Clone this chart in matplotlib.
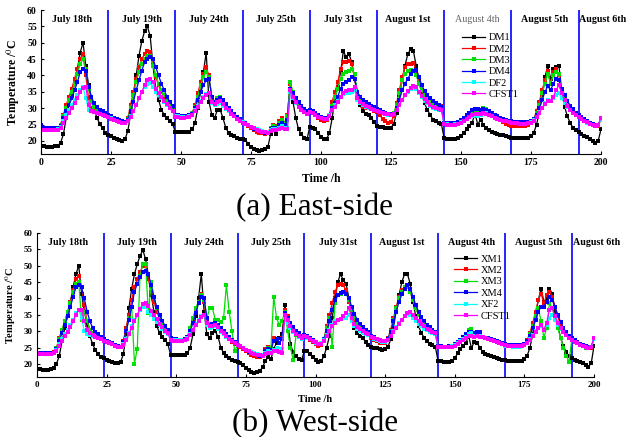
import numpy as np
import matplotlib
matplotlib.use("Agg")
import matplotlib.pyplot as plt

plt.rcParams['font.family'] = ['Liberation Serif', 'DejaVu Serif']
plt.rcParams['mathtext.fontset'] = 'stix'

nan = np.nan
day_edges = [24, 48, 72, 96, 120, 144, 168, 192]
day_names = ["July 18th", "July 19th", "July 24th", "July 25th", "July 31st",
             "August 1st", "August 4th", "August 5th", "August 6th"]
day_label_x = [11, 36, 60, 84, 108, 131, 156, 180, 192.3]
east_labels = ["DM1", "DM2", "DM3", "DM4", "DF2", "CFST1"]
west_labels = ["XM1", "XM2", "XM3", "XM4", "XF2", "CFST1"]
colors = ["black", "red", "#00e000", "blue", "cyan", "magenta"]

# ---- East side, hourly readings (t = 0..200 h) ----
dm1 = [18.5, 18.3, 18.2, 18.2, 18.2, 18.3, 18.5, 19.5, 22, 27, 31, 34, 37.5, 42, 47, 50, 43, 37, 33, 29.5, 27, 25.2, 23.8, 22.5,
       21.8, 21.4, 21, 20.7, 20.3, 20, 20.5, 23, 28, 34, 40, 46, 50.5, 53.5, 55, 52, 43, 36, 32.5, 29.5, 28, 27, 26, 25.2,
       22.7, 22.6, 22.6, 22.6, 22.6, 22.8, 23.5, 25.5, 30, 35, 41, 47, 32, 28, 27, 29.5, 29.5, 27, 24, 22.5, 21.8, 21.5, 21, 20.6,
       20.5, 20.2, 19.2, 18, 17.4, 17.1, 16.9, 17.2, 17.6, 18, 22, 23.5, 22, 24.5, 26.5, 25, 27.5, 37.5, 32, 27, 23.5, 22, 21, 20.5,
       24.3, 24, 23.5, 22.5, 21.3, 20.5, 20.7, 22.3, 27, 33, 36.5, 41, 47.5, 45.5, 46.5, 44, 39, 34.5, 31, 29, 28.3, 28, 27, 25.8,
       24.5, 24.3, 24.2, 24, 23.8, 24, 25.3, 28.5, 34, 38.5, 43, 46.5, 48, 47.5, 43, 38.5, 34, 31.5, 29.5, 28, 26.5, 26, 25.5, 25.2,
       20.8, 20.6, 20.5, 20.5, 20.7, 21, 21.5, 22.5, 23.5, 24.5, 25.5, 28.5, 25, 26.5, 25, 24, 23.3, 22.8, 22.4, 22.1, 21.9, 21.7, 21.5, 21.3,
       21, 21, 20.9, 20.8, 20.8, 20.8, 21, 21.5, 22.5, 25, 29, 34, 39.5, 43, 39, 42, 42.5, 43, 35, 30.5, 27.5, 25.5, 24, 23.2,
       22.8, 22, 21.5, 21.2, 20.5, 20, 19.5, 20, 23.5]
dm2 = [23.5, 23.4, 23.4, 23.4, 23.4, 23.4, 23.6, 25, 28, 31, 33.5, 36, 39, 42, 45, 46.5, 40, 33, 30, 29.3, 29, 28.5, 28.2, 27.8,
       27.5, 27.1, 26.7, 26.3, 26, 25.8, 25.8, 27, 31, 35, 39, 42.5, 45, 46.5, 47.5, 47.3, 43.5, 39.5, 37, 35, 33.3, 32, 31, 30.3,
       27.8, 27.6, 27.5, 27.5, 27.6, 27.9, 28.5, 31, 34.5, 38, 40.5, 42.5, 40, 33, 31.5, 32.3, 32.5, 31.5, 30.3, 29.3, 28.5, 27.7, 27, 26.3,
       25.6, 25.2, 24.5, 23.8, 23.2, 22.8, 22.5, 22.3, 22.2, 22.5, 24, 25, 24.5, 26, 27, 25.5, 28, 37.5, 34.5, 32.5, 31, 30, 29.2, 28.6,
       29, 28.5, 27.8, 27, 26.3, 26, 26.3, 28, 32, 35, 38, 42, 44, 44, 44.3, 43.5, 39, 34, 31.5, 30.5, 30.2, 30, 29.6, 29.2,
       28.8, 27.8, 26.8, 26, 25.6, 25.8, 27.5, 31.5, 35.5, 39.5, 42.5, 43.5, 43.5, 43.8, 41.5, 38, 35.5, 33.5, 32.5, 31.8, 31.3, 31, 30.8, 30.6,
       25.3, 25.2, 25.2, 25.2, 25.3, 25.5, 26, 26.6, 27.3, 28, 28.5, 28.8, 28.5, 29, 29.6, 29.3, 28.6, 27.9, 27.3, 26.8, 26.3, 25.8, 25.3, 24.9,
       24.6, 24.5, 24.5, 24.5, 24.5, 24.6, 24.8, 25.4, 26.8, 29, 32, 35.5, 38.5, 41.5, 37.5, 41, 42, 40, 36, 33, 31, 29.6, 28.6, 27.8,
       27.2, 26.6, 26.1, 25.6, 25.2, 24.8, 24.5, 24.6, 26.5]
dm3 = [23.8, 23.6, 23.6, 23.6, 23.6, 23.6, 23.8, 25, 27.5, 30, 32.5, 35, 37.5, 40.5, 43.5, 45, 42, 36, 32, 30.5, 29.5, 28.8, 28.3, 27.9,
       27.6, 27.2, 26.8, 26.4, 26.1, 25.8, 25.8, 26.8, 30, 34, 38, 41, 43.5, 45, 46, 46, 43, 40, 37.5, 35.5, 34, 32.5, 31.3, 30.5,
       27.7, 27.6, 27.5, 27.5, 27.6, 27.9, 28.5, 30.5, 33.5, 37, 39.5, 41, 39.5, 33.5, 32, 33, 33.5, 32.3, 31, 29.8, 28.8, 28, 27.2, 26.5,
       25.8, 25.4, 24.8, 24.2, 23.6, 23.2, 22.9, 22.6, 22.4, 22.5, 23.8, 24.5, 24.2, 25.5, 26.5, 25.5, 27.5, 38, 35, 32.8, 31.3, 30.2, 29.4, 28.7,
       29.2, 28.8, 28.2, 27.6, 27, 26.6, 26.8, 28, 30.8, 33.5, 36, 39, 40.5, 41, 41.5, 42, 40.5, 35, 32.5, 31.7, 31, 30.5, 30, 29.6,
       29.2, 28.8, 28.4, 28.1, 27.9, 27.9, 28.5, 31, 34.5, 38.5, 40.5, 41.5, 41.7, 41.5, 40, 37.5, 35.5, 34, 33, 32.2, 31.5, 31, 30.4, 30,
       25.3, 25.2, 25.2, 25.2, 25.3, 25.5, 26, 26.6, 27.3, 28, 28.6, 29, 28.8, 29.5, 30.2, 29.8, 29, 28.3, 27.7, 27.2, 26.8, 26.5, 26.2, 26,
       25.8, 25.7, 25.6, 25.5, 25.5, 25.5, 25.6, 25.9, 26.8, 28.5, 31, 34.5, 37.5, 40.5, 37.5, 40, 41, 40.3, 35.5, 33, 31, 29.6, 28.6, 27.8,
       27.2, 26.6, 26.1, 25.6, 25.2, 24.8, 24.5, 24.8, 26.8]
dm4 = [24.8, 24, 23.8, 23.8, 23.8, 23.8, 23.9, 24.5, 27, 29, 31, 33, 35.5, 38, 41, 42, 41.5, 36.5, 33.5, 31.5, 30.3, 29.5, 29, 28.5,
       28, 27.5, 27.1, 26.7, 26.3, 26, 25.9, 26.5, 29, 32, 35.5, 38.5, 41.5, 44, 45, 45.5, 45, 42.5, 40, 37.5, 35.5, 33.5, 32, 30.8,
       28, 27.8, 27.6, 27.5, 27.6, 27.9, 28.3, 30, 32.5, 35, 37, 38.5, 39, 33.5, 32, 32.5, 33, 32.5, 31.3, 30, 29, 28.2, 27.3, 26.6,
       25.9, 25.5, 24.8, 24.2, 23.6, 23.2, 22.9, 22.7, 22.5, 22.5, 23.5, 24, 23.8, 24.8, 25.5, 25, 26.5, 36, 34.5, 33, 31.8, 30.8, 29.9, 29.2,
       29.3, 29, 28.5, 27.9, 27.3, 26.9, 27, 28, 30, 31.5, 33.5, 36, 37.5, 38, 38.5, 39.5, 39, 35, 33.5, 32.5, 31.8, 31.2, 30.8, 30.4,
       29.8, 29.3, 28.9, 28.5, 28.2, 28.1, 28.3, 30, 32.5, 35.5, 37.5, 39, 40.5, 41.5, 41.8, 39.5, 37, 35.3, 34, 33, 32.2, 31.5, 30.9, 30.5,
       25.5, 25.4, 25.4, 25.4, 25.5, 25.8, 26.3, 27, 27.8, 28.6, 29.3, 29.8, 29.6, 29.5, 29.8, 29.5, 29, 28.5, 28, 27.5, 27.1, 26.8, 26.5, 26.2,
       26, 25.9, 25.8, 25.7, 25.7, 25.7, 25.8, 26, 26.7, 28, 30, 32.5, 35, 36.8, 35.5, 37.5, 39, 38.5, 36, 34, 32.3, 30.8, 29.6, 28.6,
       27.9, 27.2, 26.6, 26.1, 25.6, 25.2, 24.9, 25, 26.7]
df2 = [23.4, 23.3, 23.3, 23.3, 23.3, 23.3, 23.5, 24.2, 26, 28, 29.5, 31, 32.5, 34, 35.5, 36.5, 33, 29.5, 29, 28.8, 28.5, 28.2, 28, 27.6,
       27.3, 26.9, 26.5, 26.1, 25.8, 25.6, 25.6, 26.2, 27.5, 29, 31, 33, 35, 36.5, 37.5, 37.8, 36.5, 35, 34, 33, 32, 31, 30, 29.2,
       27.6, 27.5, 27.4, 27.4, 27.4, 27.6, 28, 29.3, 30.8, 32.3, 33.5, 34.3, 34.5, 31.5, 31, 31.2, 31.5, 30.8, 29.8, 29, 28.2, 27.5, 26.8, 26.2,
       25.7, 25.3, 24.8, 24.3, 23.9, 23.5, 23.2, 22.9, 22.7, 22.6, 23.2, 23.5, 23.5, 24, 24.5, 24, 24, 35, 33, 31.5, 30.3, 29.5, 28.8, 28.2,
       28.8, 28.4, 27.9, 27.4, 26.9, 26.6, 26.7, 27.8, 29.5, 31, 32.3, 33.5, 34.3, 34.5, 34.5, 35, 35.5, 32.5, 31.5, 31, 30.5, 30, 29.6, 29.3,
       29, 28.7, 28.4, 28.2, 28, 28, 28.2, 29.5, 31, 32.5, 34, 35, 35.8, 36.3, 36, 34.5, 33.3, 32.3, 31.5, 30.8, 30.2, 29.8, 29.5, 29.3,
       25.2, 25.1, 25, 25, 25.1, 25.3, 25.7, 26.2, 26.8, 27.3, 27.7, 27.8, 27.5, 28, 28.5, 28.4, 28, 27.5, 27.1, 26.8, 26.4, 26.2, 26, 25.8,
       25.6, 25.5, 25.4, 25.3, 25.3, 25.3, 25.4, 25.7, 26.3, 27.3, 28.8, 30.2, 31.5, 32.5, 32.2, 33, 34, 34.5, 33, 31.5, 30.3, 29.3, 28.5, 27.8,
       27.2, 26.6, 26.1, 25.6, 25.2, 24.9, 24.6, 24.8, 26.5]
cfst1_e = [23.3, 23.2, 23.2, 23.2, 23.2, 23.2, 23.4, 24, 25.5, 27, 28.5, 30, 31.5, 33, 35, 36.3, 36.5, 31, 29, 28.8, 28.5, 28.2, 27.8, 27.5,
           27.2, 26.8, 26.4, 26, 25.7, 25.5, 25.5, 26, 27.3, 29, 31, 33, 35, 37, 38.5, 38.8, 38, 36, 34.5, 33.3, 32.3, 31.2, 30, 29,
           27.3, 27.2, 27.1, 27.1, 27.2, 27.4, 27.8, 29, 30.5, 32, 33, 34, 34.5, 32, 31.2, 31.8, 32.2, 31.3, 30.2, 29.3, 28.3, 27.5, 26.8, 26.2,
           25.6, 25.3, 24.8, 24.3, 23.8, 23.4, 23.1, 22.8, 22.6, 22.4, 23, 23.3, 23.3, 23.7, 24, 23.6, 23.5, 35.5, 33.5, 31.8, 30.5, 29.5, 28.8, 28.2,
           28.8, 28.4, 27.9, 27.4, 26.9, 26.6, 26.7, 27.7, 29.3, 30.5, 31.8, 33.3, 34.5, 35.2, 35.5, 35.7, 36.5, 33, 32, 31.2, 30.7, 30.3, 29.8, 29.4,
           29.1, 28.8, 28.5, 28.3, 28.1, 28, 28.3, 29.5, 31, 32.5, 34, 35.2, 36.2, 36.8, 36.5, 35, 33.8, 32.8, 31.8, 31.1, 30.5, 30, 29.7, 29.5,
           25.1, 25, 24.9, 24.9, 25, 25.2, 25.5, 26, 26.6, 27.3, 27.9, 28.3, 28.2, 28.3, 28.5, 28.3, 27.9, 27.5, 27.1, 26.7, 26.4, 26.2, 26, 25.8,
           25.6, 25.5, 25.4, 25.3, 25.3, 25.3, 25.4, 25.6, 26.2, 27.2, 28.6, 30, 31.3, 32.3, 32.3, 33.5, 35.5, 37, 34.5, 32.5, 30.8, 29.5, 28.6, 27.8,
           27.2, 26.6, 26.1, 25.7, 25.3, 25, 24.7, 24.9, 27]

# ---- West side ----
xm1 = [18.5, 18.3, 18.2, 18.2, 18.2, 18.3, 18.6, 20, 22.5, 27, 31, 35, 39, 43.5, 47.5, 50, 41.5, 36, 32, 28.5, 26, 24.2, 23, 22.2,
       21.8, 21.3, 21, 20.7, 20.4, 20.2, 20.5, 23, 29, 37, 43, 47.5, 50.5, 53, 54.8, 52, 47, 41, 36, 31.5, 29.5, 28.2, 27.3, 26,
       22.7, 22.6, 22.6, 22.6, 22.6, 22.7, 23.3, 25, 29, 34.5, 40, 47.5, 36, 29, 28, 29.5, 30, 28.3, 25, 23.3, 22.3, 21.7, 21.2, 20.8,
       20.7, 20.2, 19.6, 18.8, 18, 17.4, 17.3, 17.5, 17.8, 19, 21, 22, 21.5, 24.5, 26.5, 28, 29, 38, 33, 26, 23.5, 22.3, 21.6, 21.1,
       24, 23.8, 23, 22.2, 21.3, 20.6, 20.8, 22.3, 25, 28.5, 34, 40, 45, 47.5, 45.5, 44.5, 40, 34.5, 31, 29.5, 28.5, 27.8, 26.8, 25.8,
       25.2, 25, 24.8, 24.6, 24.4, 24.5, 25.2, 27.5, 31, 36.5, 41, 45, 47.5, 47.5, 44.5, 39, 34.5, 31.5, 29.5, 28, 27, 26, 25.7, 25.3,
       21, 20.8, 20.6, 20.6, 20.6, 21, 21.8, 23.2, 24.5, 25.5, 26.5, 28.5, 24.8, 26.8, 26.5, 25, 23.7, 23, 22.6, 22.3, 22, 21.8, 21.6, 21.3,
       21.1, 21, 21, 20.9, 20.9, 20.9, 21, 21.5, 22.5, 25, 29, 34.5, 39.5, 43, 39, 40, 43, 41.5, 36, 31.5, 28, 25.5, 23.5, 22.3,
       21.8, 21.3, 21, 20.7, 20.3, 19.6, 19.2, 20.2, 25.5]
xm2 = [23.3, 23.2, 23.2, 23.2, 23.2, 23.2, 23.5, 25, 28, 30.5, 33, 36, 39, 42.5, 46, 47, 43.5, 38, 33, 30.5, 29.5, 28.8, 28.3, 27.8,
       27.3, 26.9, 26.5, 26.1, 25.7, 25.3, 25.2, 27, 31, 35, 39.5, 43.5, 46, 48, 50, 50.5, 46, 42, 39, 36, 33.8, 32, 30.6, 29.7,
       27.6, 27.4, 27.3, 27.3, 27.3, 27.5, 28.3, 30.5, 33.5, 36.5, 39, 41.5, 39, 33, 31.5, 31.8, 32, 31.5, 30.3, 29.3, 28.4, 27.5, 26.8, 26.2,
       25.7, 25.3, 24.6, 23.8, 23.2, 22.7, 22.4, 22.2, 22.2, 22.6, 24.5, 25.3, 25, 28, 27.5, 26.5, 28, 36.5, 34.5, 32.3, 30.8, 29.7, 28.8, 28,
       28.5, 28, 27.3, 26.6, 26, 25.6, 25.8, 27.5, 31.5, 35, 38.5, 42, 44, 44.5, 44, 42.5, 39, 36, 33.5, 32, 31, 30.2, 29.6, 29.1,
       28, 27.4, 26.9, 26.5, 26.3, 26.5, 27.8, 30.5, 34, 37.5, 40.5, 42.5, 43.5, 43.5, 42, 39.5, 37, 35, 33.3, 32, 31, 30.2, 29.6, 29.1,
       25.5, 25.3, 25.2, 25.2, 25.3, 25.5, 26, 26.6, 27.3, 28.1, 29, 29.8, 30, 29.2, 29.3, 29.4, nan, nan, 27.8, 27.5, 27.1, 26.8, 26.5, 26.2,
       25.8, 25.7, 25.6, 25.5, 25.5, 25.5, 25.6, 26, 27.3, 29.5, 32.5, 36, 39.5, 41.5, 38.5, 41, 42, 40.5, 37.5, 34.5, 32, 30.3, 29, 28,
       27.3, 26.8, 26.3, 25.8, 25.4, 25, 24.8, 25, 27.5]
xm3 = [23.3, 23.2, 23.2, 23.2, 23.2, 23.2, 23.4, 24.8, 27.5, 30.5, 33, 36, 38.5, 42, 44.5, 45, 33.5, 36, 33, 30.5, 29.5, 28.8, 28.3, 27.8,
       27.3, 26.9, 26.5, 26.1, 25.7, 25.3, 25.2, 26.5, 30, 34, 37.5, 20, 24.7, 47, 50.5, 50.5, 35.5, 45, 40.5, 37, 34.5, 32.5, 31, 29.8,
       27.6, 27.5, 27.4, 27.4, 27.4, 27.6, 28.3, 31, 34, 37, 39, 41, 39.5, 34, 37, 37, 33.5, 33.5, 32.8, 34, 44, 36, 30, 24,
       25.8, 25.4, 24.8, 24.2, 23.6, 23.2, 22.9, 22.6, 22.4, 22.6, 24, 25, 24.8, 40.5, 34, 32, 33, 36, 30, 25, 21.3, 28.8, 28.3, 27.8,
       28.7, 28.2, 27.6, 27, 26.4, 26, 26.2, 27.5, 31, 34, 25.3, 38.5, 41, 41.5, 42, 41.5, 39.5, 36.5, 34, 32.3, 31, 30.2, 29.6, 29.1,
       28.2, 27.7, 27.3, 27, 26.8, 26.8, 27.7, 30, 33.5, 37, 40, 42, 43.5, 43.5, 42, 39.5, 37, 35, 33.3, 32, 31, 30.3, 29.7, 29.2,
       25.5, 25.3, 25.2, 25.2, 25.3, 25.5, 26, 26.6, 27.3, 28.1, 29, 30.3, 30.8, 29.5, 29.3, 29.4, nan, nan, 27.8, 27.5, 27.1, 26.8, 26.5, 26.2,
       25.8, 25.7, 25.6, 25.5, 25.5, 25.5, 25.6, 26, 27, 29, 31.5, 34.5, 37, 33, 28, 31, 38.5, 37, 34, 31, 28, 25, 22.5, 20.6,
       27.3, 26.8, 26.3, 25.8, 25.4, 25, 24.8, 25.2, 27.5]
xm4 = [23.3, 23.2, 23.2, 23.2, 23.2, 23.2, 23.4, 24.5, 27, 29.5, 32, 34.5, 37.5, 40.5, 43.5, 44, 43.5, 40, 36, 33, 31, 29.8, 29, 28.3,
       27.5, 27.1, 26.7, 26.3, 25.9, 25.5, 25.3, 26.7, 30, 33.5, 37.5, 42, 44.5, 46.5, 48, 48.5, 47.5, 44, 40.5, 37.3, 35, 33.2, 31.6, 30.4,
       28, 27.7, 27.5, 27.4, 27.4, 27.6, 28.2, 30, 32.5, 35.5, 38.5, 40.5, 40, 34, 32, 32.2, 32.5, 32, 31, 30, 29, 28.1, 27.3, 26.6,
       25.9, 25.5, 24.9, 24.2, 23.6, 23.2, 22.9, 22.7, 22.5, 22.6, 23.8, 24.5, 24.3, 27, 27.5, 26.5, 27.5, 35.5, 34, 32.5, 31.2, 30.2, 29.3, 28.5,
       28.8, 28.4, 27.8, 27.2, 26.6, 26.2, 26.3, 27.5, 30, 33, 36.5, 39.5, 41, 41.8, 42, 41.5, 40, 37.5, 35.3, 33.5, 32.2, 31.2, 30.4, 29.8,
       28.6, 28.1, 27.6, 27.3, 27, 27, 27.6, 29.8, 33, 36, 39, 41.3, 43, 44, 43, 40.5, 38, 36, 34.3, 33, 32, 31.2, 30.5, 29.9,
       25.6, 25.4, 25.3, 25.3, 25.4, 25.6, 26, 26.6, 27.3, 28.1, 29.2, 29.9, 29.7, 29.3, 29.6, 29.7, nan, nan, 28, 27.7, 27.3, 27, 26.7, 26.4,
       26, 25.9, 25.8, 25.7, 25.7, 25.7, 25.8, 26.1, 27, 28.5, 31, 33.5, 36, 37.5, 37.5, 39, 40.5, 39.5, 37.5, 35, 32.8, 31, 29.6, 28.5,
       27.8, 27.2, 26.7, 26.2, 25.8, 25.4, 25.1, 25.3, 27.8]
xf2 = [23.2, 23.1, 23.1, 23.1, 23.1, 23.1, 23.3, 24.3, 26, 27.5, 29, 30.5, 32, 33.5, 35.5, 36.5, 34, 30, 29, 28.8, 28.5, 28.2, 27.9, 27.5,
       27.1, 26.7, 26.3, 26, 25.6, 25.3, 25.2, 26, 27.5, 29.5, 31.5, 33.5, 35, 36.5, 37.5, 37.5, 36, 34.8, 33.8, 32.8, 31.8, 30.8, 29.9, 29.2,
       27.4, 27.3, 27.2, 27.2, 27.2, 27.4, 27.9, 29, 30.5, 32, 33.5, 34.5, 35, 32, 31, 31.2, 31.5, 30.8, 29.8, 29, 28.2, 27.5, 26.9, 26.3,
       25.8, 25.5, 25, 24.4, 23.9, 23.5, 23.2, 22.9, 22.7, 22.6, 23.3, 23.8, 23.7, 24.3, 24.8, 24.5, 24.5, 34, 32.5, 31, 29.8, 29, 28.3, 27.7,
       28.4, 28, 27.5, 27, 26.5, 26.2, 26.3, 27.3, 28.8, 30.3, 31.8, 33, 33.5, 33.8, 34, 34, 35, 33, 31.5, 30.6, 30, 29.5, 29.1, 28.7,
       28.1, 27.7, 27.3, 27, 26.8, 26.8, 27.3, 28.5, 30, 31.3, 32.5, 33.5, 34.5, 35.3, 35, 34, 33, 32.2, 31.5, 30.8, 30.3, 29.8, 29.4, 29,
       25.3, 25.2, 25.1, 25.1, 25.2, 25.4, 25.8, 26.3, 26.9, 27.5, 28.3, 29, 29.3, 28.5, 28.5, 28.4, 28.2, 28, 27.7, 27.3, 27, 26.7, 26.4, 26.1,
       25.6, 25.5, 25.4, 25.3, 25.3, 25.3, 25.4, 25.7, 26.4, 27.5, 28.8, 30, 31, 31.5, 30.5, 32, 34, 35, 33.5, 32, 30.8, 29.8, 28.8, 28,
       27.4, 26.8, 26.3, 25.8, 25.4, 25.1, 24.9, 25.2, 27.5]
cfst1_w = [23.2, 23.1, 23.1, 23.1, 23.1, 23.1, 23.3, 24, 25.5, 27, 28.5, 29.8, 31.3, 33, 35, 36.5, 36.5, 33, 30.5, 29.5, 28.8, 28.3, 27.9, 27.5,
           27.1, 26.7, 26.3, 26, 25.6, 25.3, 25.1, 25.8, 27.2, 29, 31, 33, 35, 36.8, 38.3, 38.7, 37.8, 36.3, 35, 33.6, 32.3, 31.2, 30.2, 29.3,
           27.3, 27.1, 27, 27, 27, 27.2, 27.7, 28.8, 30.3, 31.8, 33, 34.3, 35, 32.5, 31.5, 31.6, 31.8, 31.2, 30.2, 29.3, 28.4, 27.6, 26.9, 26.3,
           25.7, 25.4, 24.9, 24.3, 23.8, 23.4, 23.1, 22.8, 22.6, 22.4, 23, 23.4, 23.3, 23.8, 24, 23.6, 23.4, 35, 33.5, 31.5, 30.2, 29.2, 28.5, 27.9,
           28.5, 28.1, 27.6, 27.1, 26.6, 26.2, 26.2, 27, 28.5, 30, 31.5, 32.5, 33.3, 33.8, 34.5, 35.5, 37, 34, 32.3, 31.3, 30.6, 30, 29.5, 29,
           28.3, 27.9, 27.5, 27.2, 27, 26.9, 27.3, 28.5, 29.8, 31, 32.3, 33.5, 34.5, 35.6, 36, 35, 34, 33, 32.2, 31.5, 30.8, 30.3, 29.8, 29.4,
           25.3, 25.2, 25.1, 25.1, 25.1, 25.3, 25.6, 26, 26.6, 27.3, 28, 28.6, 28.5, 28.3, 28.4, 28.3, 28.2, 28, 27.7, 27.4, 27, 26.7, 26.4, 26.2,
           25.7, 25.6, 25.5, 25.4, 25.4, 25.4, 25.5, 25.7, 26.3, 27.2, 28.5, 29.8, 31, 32, 30.5, 32.5, 36.5, 37, 34.5, 32.5, 31, 29.8, 28.8, 28,
           27.4, 26.8, 26.3, 25.9, 25.5, 25.2, 25, 25.3, 28]

east = [dm1, dm2, dm3, dm4, df2, cfst1_e]
west = [xm1, xm2, xm3, xm4, xf2, cfst1_w]
hours = np.arange(201)

fig = plt.figure(figsize=(6.26, 4.37), dpi=100)
ax1 = fig.add_axes([0.0655, 0.6476, 0.8945, 0.3295])
ax2 = fig.add_axes([0.0591, 0.1373, 0.8898, 0.3295])


def draw_panel(ax, series, labels, leg_xy, gray_day, tick_fs, lab_fs):
    for vals, lab, col in zip(series, labels, colors):
        ax.plot(hours, vals, '-s', color=col, ms=2.6, mew=0, lw=0.9, label=lab)
    for e in day_edges:
        ax.axvline(e, color='blue', lw=1.2, zorder=1)
    for name, xd in zip(day_names, day_label_x):
        gray = gray_day and name == "August 4th"
        ax.text(xd, 58.5, name, ha='left' if xd > 190 else 'center', va='top',
                fontsize=7.2, fontweight='normal' if gray else 'bold',
                color='#666666' if gray else 'black', clip_on=False)
    ax.set_xlim(0, 200)
    ax.set_ylim(16, 60)
    ax.set_xticks(np.arange(0, 201, 25))
    ax.set_yticks(np.arange(20, 61, 5))
    ax.tick_params(direction='in', length=2.5, labelsize=tick_fs, pad=3)
    for t in ax.get_xticklabels() + ax.get_yticklabels():
        t.set_fontweight('bold')
    ax.spines['top'].set_visible(False)
    ax.spines['right'].set_visible(False)
    ax.set_xlabel("Time /h", fontsize=lab_fs, fontweight='bold', labelpad=4)
    ax.set_ylabel(r"Temperature /$^{0}$C", fontsize=lab_fs, fontweight='bold', labelpad=4)
    ax.legend(loc='upper left', bbox_to_anchor=leg_xy, frameon=False, fontsize=7.5,
              handlelength=2.2, handletextpad=0.3, labelspacing=0.2, borderaxespad=0)


draw_panel(ax1, east, east_labels, (0.745, 0.87), True, 7, 8.5)
draw_panel(ax2, west, west_labels, (0.742, 0.88), False, 6.5, 7.5)

fig.text(0.503, 0.526, "(a) East-side", ha='center', va='center', fontsize=22.5)
fig.text(0.503, 0.03, "(b) West-side", ha='center', va='center', fontsize=22.5)

fig.savefig("out.png", dpi=100)
